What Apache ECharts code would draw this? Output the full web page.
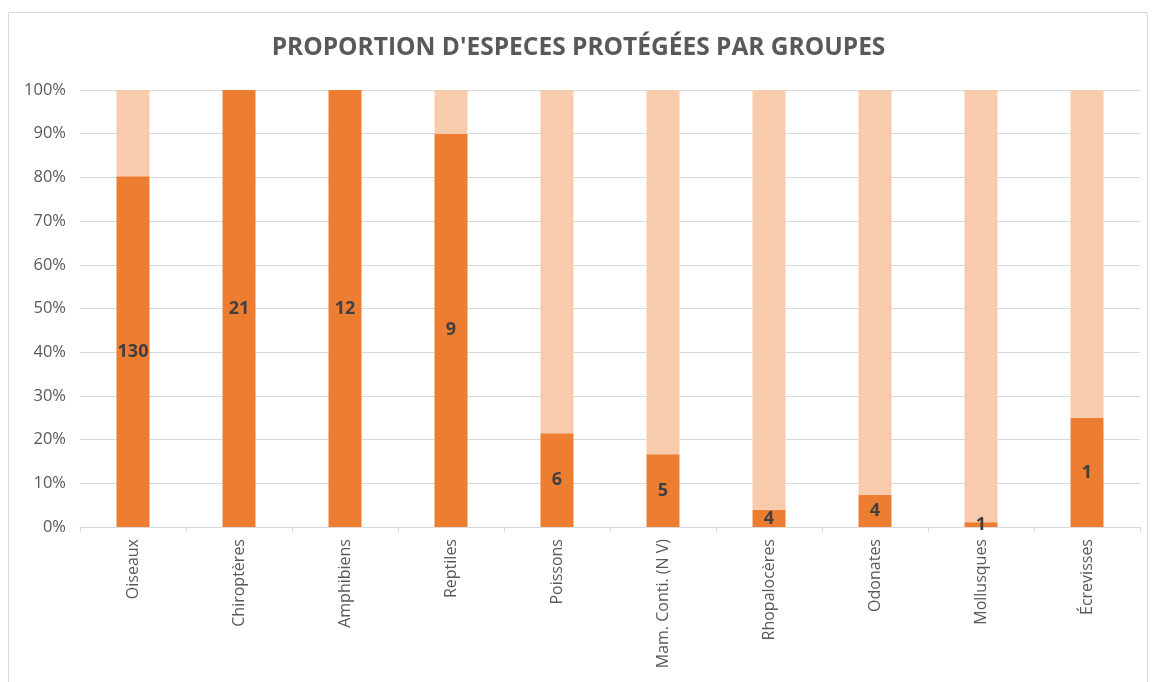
<!DOCTYPE html>
<html>
<head>
<meta charset="utf-8">
<script src="https://cdn.jsdelivr.net/npm/echarts@6/dist/echarts.min.js"></script>
<style>
  html, body { margin: 0; padding: 0; background: #fff; }
  #chart { width: 1157px; height: 682px; }
</style>
</head>
<body>
<div id="chart"></div>
<script>
// Species groups and counts of protected / non-protected species
const groups = ['Oiseaux', 'Chiroptères', 'Amphibiens', 'Reptiles', 'Poissons',
  'Mam. Conti. (N V)', 'Rhopalocères', 'Odonates', 'Mollusques', 'Écrevisses'];
const protectedCounts = [130, 21, 12, 9, 6, 5, 4, 4, 1, 1];
const otherCounts = [32, 0, 0, 1, 22, 25, 98, 50, 89, 3];
const yTicks = [0, 10, 20, 30, 40, 50, 60, 70, 80, 90, 100];

// Share of each group (percent of its total)
const totals = protectedCounts.map((v, i) => v + otherCounts[i]);
const protectedPct = protectedCounts.map((v, i) => v / totals[i] * 100);
const otherPct = otherCounts.map((v, i) => v / totals[i] * 100);

const chart = echarts.init(document.getElementById('chart'), null, { renderer: 'canvas' });
const font = 'Open Sans, Liberation Sans, sans-serif';

chart.setOption({
  animation: false,
  backgroundColor: '#ffffff',
  graphic: [{
    type: 'rect',
    shape: { x: 8.5, y: 12.5, width: 1139, height: 690 },
    style: { fill: 'none', stroke: '#d9d9d9', lineWidth: 1 },
    silent: true
  }],
  title: {
    text: "PROPORTION D'ESPECES PROTÉGÉES PAR GROUPES",
    left: 'center',
    top: 31,
    textStyle: { fontFamily: font, fontSize: 24.5, fontWeight: 'bold', color: '#595959' }
  },
  grid: { left: 80, right: 17, top: 90, bottom: 155, containLabel: false },
  xAxis: {
    type: 'category',
    data: groups,
    axisLine: { lineStyle: { color: '#d9d9d9', width: 1 } },
    axisTick: { show: true, length: 5, lineStyle: { color: '#d9d9d9' } },
    axisLabel: {
      rotate: 90, margin: 12, fontFamily: font, fontSize: 16, color: '#595959'
    }
  },
  yAxis: {
    type: 'value',
    min: yTicks[0],
    max: yTicks[yTicks.length - 1],
    interval: 10,
    axisLine: { show: false },
    axisTick: { show: false },
    splitLine: { lineStyle: { color: '#d9d9d9', width: 1 } },
    axisLabel: {
      margin: 14, fontFamily: font, fontSize: 16.5, color: '#595959',
      formatter: v => v + '%'
    }
  },
  series: [
    {
      name: 'Protégées',
      type: 'bar',
      stack: 'total',
      barWidth: 33,
      data: protectedPct,
      itemStyle: { color: '#ED7D31' },
      label: {
        show: true,
        position: 'inside',
        fontFamily: font,
        fontSize: 18,
        fontWeight: 'bold',
        color: '#404040',
        formatter: p => String(protectedCounts[p.dataIndex])
      }
    },
    {
      name: 'Non protégées',
      type: 'bar',
      stack: 'total',
      barWidth: 33,
      data: otherPct,
      itemStyle: { color: '#F8CBAD' }
    }
  ]
});
</script>
</body>
</html>
